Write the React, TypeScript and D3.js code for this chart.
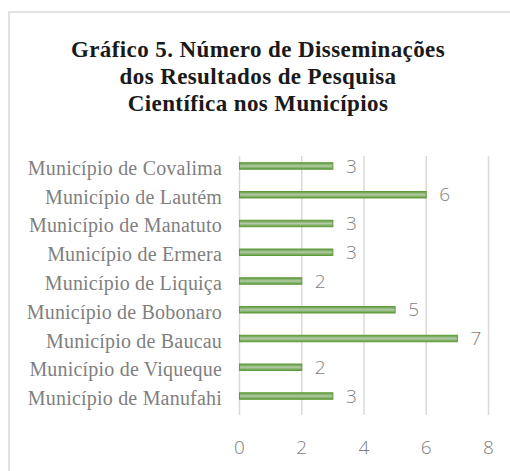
import React from "react";
import * as d3 from "d3";

const categories = [
  "Município de Covalima",
  "Município de Lautém",
  "Município de Manatuto",
  "Município de Ermera",
  "Município de Liquiça",
  "Município de Bobonaro",
  "Município de Baucau",
  "Município de Viqueque",
  "Município de Manufahi",
];
const values = [3, 6, 3, 3, 2, 5, 7, 2, 3];
const xTicks = [0, 2, 4, 6, 8];
const titleLines = [
  "Gráfico 5. Número de Disseminações",
  "dos Resultados de Pesquisa",
  "Científica nos Municípios",
];

export default function App() {
  const W = 510, H = 471;
  const x = d3.scaleLinear().domain([0, 8]).range([239.5, 488.5]);
  const y = d3.scaleBand<string>().domain(categories).range([151.6, 410.4]).paddingInner(0).paddingOuter(0);
  const barH = 6.5;
  const gridTop = 156, gridBottom = 415;
  const labelFont = "'Liberation Serif', serif";
  const numFont = "'Open Sans', sans-serif";
  return (
    <svg width={W} height={H} style={{ position: "absolute", left: 0, top: 0 }} xmlns="http://www.w3.org/2000/svg">
      <defs>
        <linearGradient id="barGrad" x1="0" y1="0" x2="0" y2="1">
          <stop offset="0" stopColor="#5f9b3a" />
          <stop offset="0.3" stopColor="#8fb77a" />
          <stop offset="0.5" stopColor="#b3cba6" />
          <stop offset="0.7" stopColor="#8fb77a" />
          <stop offset="1" stopColor="#5f9b3a" />
        </linearGradient>
      </defs>
      <rect x={0} y={0} width={W} height={H} fill="#ffffff" />
      <rect x={9} y={12} width={W + 20} height={H + 20} fill="#ffffff" stroke="#d9d9d9" strokeWidth={1.5} />
      {titleLines.map((t, i) => (
        <text key={i} x={258} y={57 + i * 27} textAnchor="middle" fontFamily={labelFont} fontWeight="bold" fontSize={23} letterSpacing={0.4} fill="#1a1a1a">
          {t}
        </text>
      ))}
      {xTicks.map((t) => (
        <line key={"g" + t} x1={x(t)} x2={x(t)} y1={gridTop} y2={gridBottom} stroke="#d9d9d9" strokeWidth={1.5} />
      ))}
      {xTicks.map((t) => (
        <text key={"t" + t} x={x(t)} y={454} textAnchor="middle" fontFamily={numFont} fontWeight={300} fontSize={19} fill="#7f7f7f">
          {t}
        </text>
      ))}
      {categories.map((c, i) => {
        const cy = (y(c) as number) + y.bandwidth() / 2;
        return (
          <g key={c}>
            <text x={222} y={cy + 9} textAnchor="end" fontFamily={labelFont} fontSize={20} letterSpacing={0.2} fill="#7f7f7f">
              {c}
            </text>
            <rect x={x(0)} y={cy - barH / 2} width={x(values[i]) - x(0)} height={barH} fill="url(#barGrad)" stroke="#5f9b3a" strokeWidth={1} />
            <text x={x(values[i]) + 13} y={cy} dy="0.35em" textAnchor="start" fontFamily={numFont} fontWeight={300} fontSize={19} fill="#7f7f7f">
              {values[i]}
            </text>
          </g>
        );
      })}
    </svg>
  );
}
